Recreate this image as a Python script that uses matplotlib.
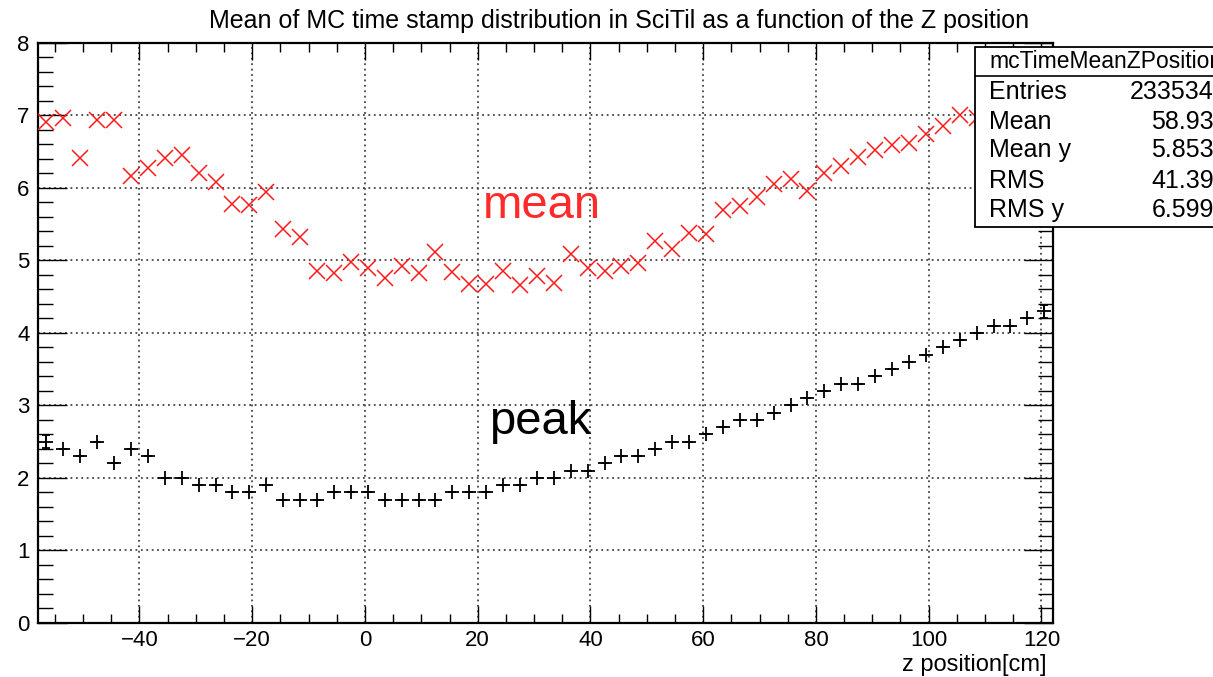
import numpy as np
import matplotlib.pyplot as plt
from matplotlib.patches import Rectangle
from matplotlib.ticker import MultipleLocator

plt.rcParams['font.family'] = ['Liberation Sans', 'DejaVu Sans']

# bin centres of the profile (60 bins, 3 cm wide, from -58 to 122)
z_lo, z_hi, n_bins = -58.0, 122.0, 60
z = np.linspace(z_lo, z_hi, n_bins + 1)[:-1] + (z_hi - z_lo) / n_bins / 2

# mean of the time stamp distribution (last four hidden by the stats box)
mean_t = [6.91, 6.96, 6.41, 6.94, 6.94, 6.17, 6.27, 6.41, 6.46, 6.21,
          6.08, 5.78, 5.76, 5.95, 5.44, 5.32, 4.86, 4.82, 4.98, 4.90,
          4.76, 4.92, 4.83, 5.12, 4.84, 4.67, 4.68, 4.86, 4.66, 4.78,
          4.69, 5.09, 4.90, 4.86, 4.92, 4.96, 5.27, 5.16, 5.38, 5.37,
          5.69, 5.75, 5.87, 6.05, 6.12, 5.96, 6.21, 6.30, 6.42, 6.52,
          6.59, 6.62, 6.74, 6.86, 7.00, 6.97, np.nan, np.nan, np.nan, np.nan]

# peak of the time stamp distribution
peak_t = [2.5, 2.4, 2.3, 2.5, 2.2, 2.4, 2.3, 2.0, 2.0, 1.9,
          1.9, 1.8, 1.8, 1.9, 1.7, 1.7, 1.7, 1.8, 1.8, 1.8,
          1.7, 1.7, 1.7, 1.7, 1.8, 1.8, 1.8, 1.9, 1.9, 2.0,
          2.0, 2.1, 2.1, 2.2, 2.3, 2.3, 2.4, 2.5, 2.5, 2.6,
          2.7, 2.8, 2.8, 2.9, 3.0, 3.1, 3.2, 3.3, 3.3, 3.4,
          3.5, 3.6, 3.7, 3.8, 3.9, 4.0, 4.1, 4.1, 4.2, 4.3]
peak_err = [0.09] + [0.0] * 58 + [0.09]

stat_names = ['Entries', 'Mean', 'Mean y', 'RMS', 'RMS y']
stat_values = ['233534', '58.93', '5.853', '41.39', '6.599']

W, H = 1213, 677
fig = plt.figure(figsize=(W / 100, H / 100), dpi=100)
ax = fig.add_axes([38 / W, 1 - 622.7 / H, (1052.7 - 38) / W, (622.7 - 43) / H])

ax.errorbar(z, peak_t, yerr=peak_err, fmt='+', color='black', ms=10.5, mew=1.3,
            elinewidth=1.2, capsize=3, capthick=1.2, zorder=3)
ax.plot(z, mean_t, 'x', color='#ff1a1a', ms=11, mew=1.1, zorder=3)

ax.text(21.0, 5.58, 'mean', color='#ff2a2a', fontsize=34)
ax.text(22.0, 2.61, 'peak', color='black', fontsize=34)

ax.set_xlim(z_lo, z_hi)
ax.set_ylim(0, 8)
ax.xaxis.set_major_locator(MultipleLocator(20))
ax.xaxis.set_minor_locator(MultipleLocator(5))
ax.yaxis.set_major_locator(MultipleLocator(1))
ax.yaxis.set_minor_locator(MultipleLocator(0.2))
ax.grid(True, which='major', color='#444444', linestyle=(0, (1, 2)), linewidth=1.3)
ax.tick_params(which='both', direction='in', top=True, right=True, width=1.0, labelsize=16)
ax.tick_params(axis='x', which='major', length=12, pad=5)
ax.tick_params(axis='x', which='minor', length=6.5)
ax.tick_params(axis='y', which='major', length=21, pad=6)
ax.tick_params(axis='y', which='minor', length=10.5)
for s in ax.spines.values():
    s.set_linewidth(1.6)

fig.text(619 / W, 1 - 21 / H, 'Mean of MC time stamp distribution in SciTil as a function of the Z position',
         ha='center', va='center', fontsize=18)
fig.text(1046 / W, 1 - 665 / H, 'z position[cm]', ha='right', va='center', fontsize=17)

# stats box
bx0, by0, by1 = 975 / W, 1 - 226.7 / H, 1 - 46.7 / H
fig.add_artist(Rectangle((bx0, by0), 1.05 - bx0, by1 - by0, transform=fig.transFigure,
                         facecolor='white', edgecolor='black', linewidth=1.3, zorder=5))
fig.add_artist(plt.Line2D([bx0, 1.0], [1 - 76 / H] * 2, transform=fig.transFigure,
                          color='black', linewidth=1.2, zorder=6))
fig.text(989 / W, 1 - 62 / H, 'mcTimeMeanZPosition', ha='left', va='center', fontsize=16.5, zorder=7)
row_y = [92, 122, 150, 181, 210]
for name, val, ry in zip(stat_names, stat_values, row_y):
    fig.text(989 / W, 1 - ry / H, name, ha='left', va='center', fontsize=18, zorder=7)
    fig.text(1214 / W, 1 - ry / H, val, ha='right', va='center', fontsize=18, zorder=7)

fig.savefig('out.png', dpi=100)
